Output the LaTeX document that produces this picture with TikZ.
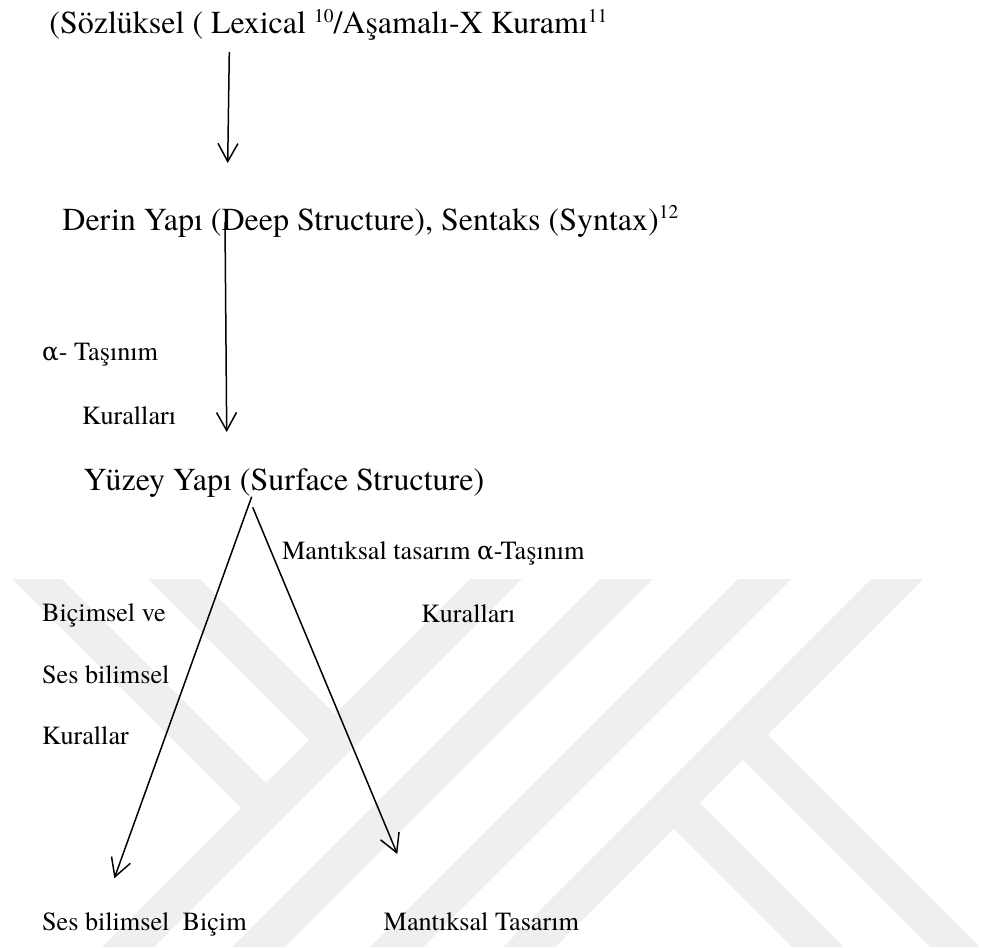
\documentclass[tikz,border=0pt]{standalone}
\usepackage{fontspec}
\setmainfont{texgyretermes-regular.otf}
\newfontfamily\grk{DejaVu Serif}
\usetikzlibrary{arrows.meta}
\definecolor{wmgray}{RGB}{239,239,239}
% raised footnote number
\newcommand{\fnnum}[1]{\raisebox{5.75pt}{\fontsize{9.75}{10}\selectfont #1}}
% Greek alpha from a font that has it
\newcommand{\alf}{{\grk\fontsize{12.4}{14}\selectfont α}}
\begin{document}
\begin{tikzpicture}[x=0.5pt,y=-0.5pt,
  big/.style={anchor=base west, inner sep=0pt, font=\fontsize{16}{19}\selectfont},
  small/.style={anchor=base west, inner sep=0pt, font=\fontsize{13.1}{16}\selectfont},
  flow/.style={line width=0.75pt, -{Straight Barb[length=9pt,width=10pt]}},
  band/.style={fill=wmgray, draw=none}]
\useasboundingbox (0,0) rectangle (983,947);

% background emblem: diagonal bands
\fill[band] (470,579) -- (522,579) -- (154,947) -- (102,947) -- cycle;
\fill[band] (600,579) -- (653,579) -- (285,947) -- (232,947) -- cycle;
\fill[band] (738,579) -- (791,579) -- (423,947) -- (370,947) -- cycle;
\fill[band] (871,579) -- (923,579) -- (555,947) -- (503,947) -- cycle;
\fill[band] (12,579) -- (62,579) -- (279,796) -- (254,821) -- cycle;
\fill[band] (148,579) -- (200,579) -- (348,727) -- (322,753) -- cycle;
\fill[band] (754.5,721.5) -- (980,947) -- (930,947) -- (729.5,746.5) -- cycle;
\fill[band] (686.5,789.5) -- (844,947) -- (792,947) -- (660.5,815.5) -- cycle;

% levels of the derivation
\node[big] (lex) at (49,34) {(Sözlüksel ( Lexical \fnnum{10}/Aşamalı-X Kuramı\fnnum{11}};
\node[big] (deep) at (62,230) {Derin Yapı (Deep Structure), Sentaks (Syntax)\fnnum{12}};
\node[small] (mv1) at (41.7,360.7) {\alf- Taşınım};
\node[small] (mv2) at (81.7,424) {Kuralları};
\node[big] (surf) at (83.3,490.7) {Yüzey Yapı (Surface Structure)};
\node[small] (lf1) at (281.7,559.3) {Mantıksal tasarım \alf-Taşınım};
\node[small] (lf2) at (421,622.3) {Kuralları};
\node[small] (pf1) at (41.7,621.7) {Biçimsel ve};
\node[small] (pf2) at (41.7,683.3) {Ses bilimsel};
\node[small] (pf3) at (41.7,744) {Kurallar};
\node[small] (pf) at (41.7,930) {Ses bilimsel\ \ Biçim};
\node[small] (lf) at (383.3,930) {Mantıksal Tasarım};

% arrow end points
\coordinate (lexout) at (229.3,52);
\coordinate (deepin) at (227.7,163);
\coordinate (deepout) at (225,222);
\coordinate (surfin) at (226.7,432);
\coordinate (surfoutl) at (251.7,496.7);
\coordinate (pfin) at (114.3,878.3);
\coordinate (surfoutr) at (252.7,507.3);
\coordinate (lfin) at (397.3,854);

\draw[flow] (lexout) -- (deepin);
\draw[flow] (deepout) -- (surfin);
\draw[flow] (surfoutl) -- (pfin);
\draw[flow] (surfoutr) -- (lfin);
\end{tikzpicture}
\end{document}
